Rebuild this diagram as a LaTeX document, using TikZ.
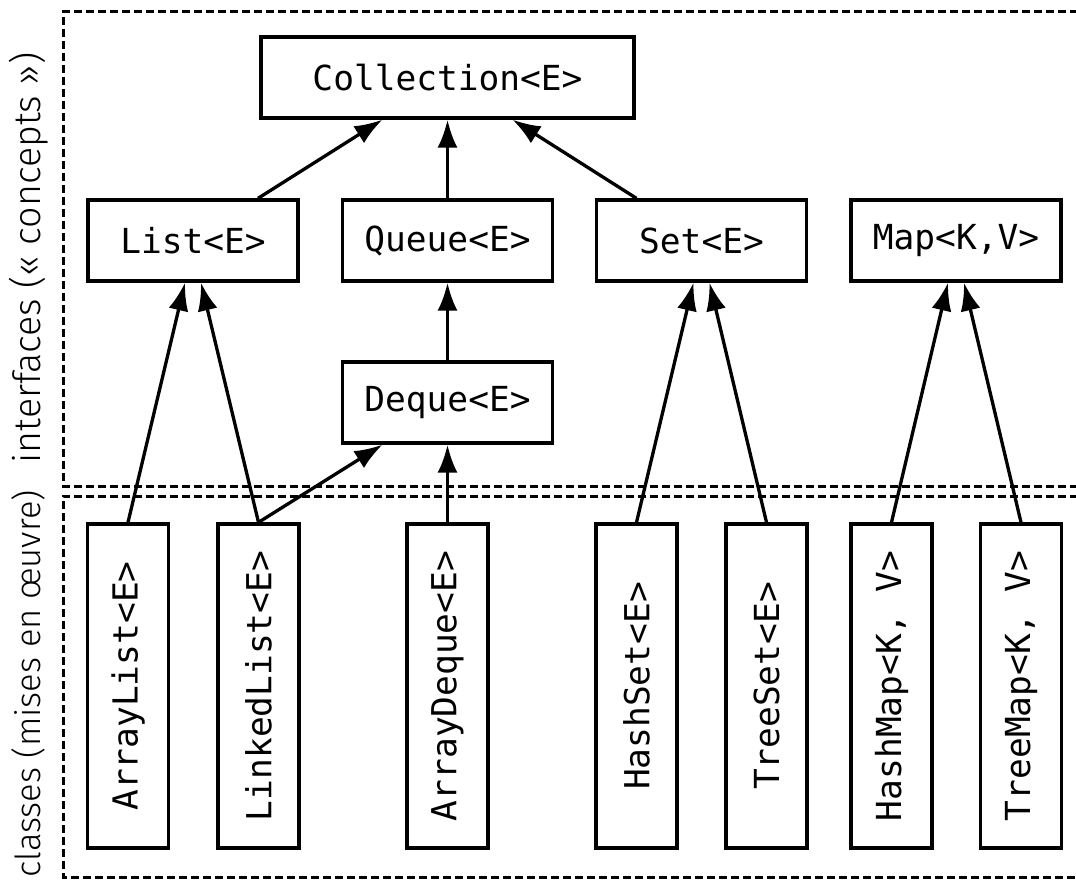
\documentclass[tikz,border=0pt]{standalone}
\usepackage{fontspec}
\setmonofont{DejaVu Sans Mono}
\newfontfamily\sidefont{Fira Sans Light}
\usetikzlibrary{arrows.meta}
\usetikzlibrary{calc}

\begin{document}
\begin{tikzpicture}[
    x=1pt, y=-1pt,
    frame/.style={line width=3pt, dash pattern=on 8pt off 4pt},
    iface/.style={draw, line width=3.3pt, minimum width=210pt, minimum height=81pt,
        inner sep=0pt, font=\ttfamily\fontsize{34.5}{40}\selectfont},
    impl/.style={draw, line width=3.3pt, rotate=90, minimum width=324pt, minimum height=81pt,
        inner sep=0pt, font=\ttfamily\fontsize{34.5}{40}\selectfont},
    inherit/.style={line width=3.3pt, -{Latex[length=28pt,width=20pt]}},
    side label/.style={rotate=90, font=\sidefont\fontsize{37.5}{44}\selectfont}
    ]
    \useasboundingbox (0,0) rectangle (1076,882);

    % frames
    \draw[frame] (1090,12) -| (63,486) -- (1090,486);
    \draw[frame] (1090,496) -| (63,877) -- (1090,877);
    \node[side label] (ifacelabel) at (29,258) {interfaces (« concepts »)};
    \node[side label, font=\sidefont\fontsize{34.5}{41}\selectfont] (impllabel) at (28,684) {classes (mises en œuvre)};

    % interfaces
    \node[iface, minimum width=373pt] (collection) at (447.5,77.5) {Collection<E>};
    \node[iface] (list) at (193,240.5) {List<E>};
    \node[iface] (queue) at (447.5,240.5) {Queue<E>};
    \node[iface] (set) at (701.5,240.5) {Set<E>};
    \node[iface] (map) at (956,240.5) {Map<K,V>};
    \node[iface] (deque) at (447.5,402.5) {Deque<E>};

    % classes
    \node[impl] (arraylist) at (128,686) {ArrayList<E>};
    \node[impl] (linkedlist) at (258.5,686) {LinkedList<E>};
    \node[impl] (arraydeque) at (447.5,686) {ArrayDeque<E>};
    \node[impl] (hashset) at (636.5,686) {HashSet<E>};
    \node[impl] (treeset) at (766.5,686) {TreeSet<E>};
    \node[impl] (hashmap) at (891.5,686) {HashMap<K, V>};
    \node[impl] (treemap) at (1021,686) {TreeMap<K, V>};

    % interface inheritance
    \draw[inherit] ($(list.north)+(65,0)$) -- ($(collection.south)+(-65,0)$);
    \draw[inherit] (queue.north) -- (collection.south);
    \draw[inherit] ($(set.north)+(-65,0)$) -- ($(collection.south)+(65,0)$);
    \draw[inherit] (deque.north) -- (queue.south);

    % implementations
    \draw[inherit] (arraylist.east) -- ($(list.south)+(-8,0)$);
    \draw[inherit] (linkedlist.east) -- ($(list.south)+(8,0)$);
    \draw[inherit] (linkedlist.east) -- ($(deque.south)+(-65,0)$);
    \draw[inherit] (arraydeque.east) -- (deque.south);
    \draw[inherit] (hashset.east) -- ($(set.south)+(-8,0)$);
    \draw[inherit] (treeset.east) -- ($(set.south)+(8,0)$);
    \draw[inherit] (hashmap.east) -- ($(map.south)+(-8,0)$);
    \draw[inherit] (treemap.east) -- ($(map.south)+(8,0)$);
\end{tikzpicture}
\end{document}
